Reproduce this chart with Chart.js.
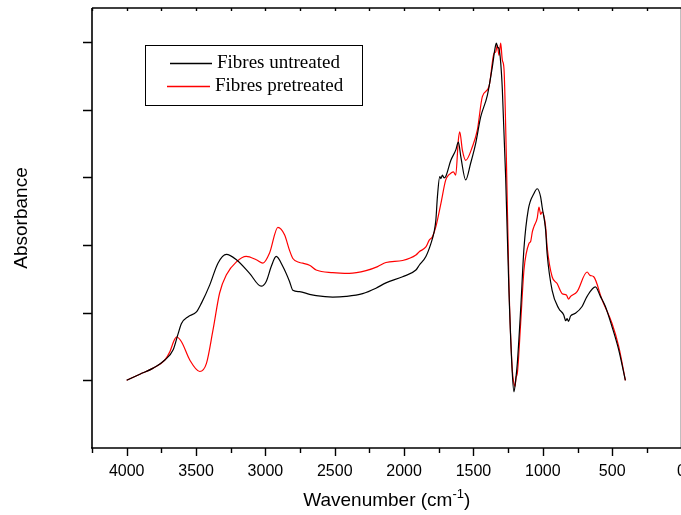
<!DOCTYPE html>
<html><head><meta charset="utf-8">
<script src="https://cdn.jsdelivr.net/npm/chart.js@4"></script>
<style>html,body{margin:0;padding:0;overflow:hidden;background:#fff}</style>
</head><body>
<canvas id="c" width="700" height="515" style="display:block"></canvas>
<script>
const wnUntreated = [4000,3905,3809,3725,3665,3629,3605,3557,3497,3461,3401,3342,3281,3209,3114,3030,2994,2958,2922,2874,2826,2802,2754,2682,2634,2515,2418,2299,2203,2131,2011,1915,1891,1843,1807,1783,1771,1760,1743,1735,1724,1712,1700,1663,1628,1609,1591,1556,1520,1484,1448,1400,1364,1345,1335,1325,1316,1304,1292,1268,1244,1220,1208,1196,1184,1160,1136,1105,1064,1040,1016,1005,980,969,933,885,850,835,825,815,800,765,717,681,621,585,549,501,453,405];
const absUntreated = [1.00,1.09,1.18,1.30,1.45,1.69,1.84,1.94,2.01,2.14,2.41,2.73,2.86,2.78,2.58,2.39,2.46,2.68,2.83,2.68,2.46,2.33,2.31,2.27,2.25,2.23,2.24,2.28,2.36,2.44,2.53,2.63,2.70,2.83,3.02,3.20,3.37,3.71,4.01,3.98,4.03,3.99,4.01,4.25,4.40,4.52,4.30,3.96,4.21,4.50,4.89,5.21,5.63,5.90,5.98,5.92,5.90,5.70,5.30,4.00,2.30,1.10,0.83,1.00,1.25,2.04,2.95,3.52,3.76,3.83,3.71,3.56,3.22,2.87,2.33,2.06,1.97,1.88,1.91,1.87,1.95,1.99,2.09,2.24,2.38,2.24,2.09,1.79,1.45,1.00];
const wnPretreated = [4000,3905,3809,3725,3689,3660,3641,3605,3545,3473,3425,3378,3330,3281,3209,3138,3066,3018,2970,2910,2862,2826,2802,2754,2730,2682,2634,2515,2395,2275,2191,2131,2011,1915,1891,1843,1819,1796,1771,1735,1700,1680,1663,1645,1628,1609,1599,1580,1556,1508,1472,1436,1388,1352,1340,1328,1316,1304,1292,1280,1263,1244,1220,1208,1201,1192,1184,1160,1136,1100,1088,1075,1064,1040,1028,1015,1005,980,969,933,897,860,830,815,800,753,681,660,633,573,501,453,405];
const absPretreated = [1.00,1.09,1.18,1.30,1.42,1.58,1.64,1.57,1.30,1.13,1.25,1.74,2.29,2.56,2.75,2.83,2.78,2.73,2.88,3.26,3.15,2.92,2.80,2.74,2.73,2.70,2.63,2.59,2.58,2.62,2.68,2.74,2.77,2.85,2.90,2.97,3.07,3.12,3.27,3.61,3.96,4.03,4.06,4.08,4.03,4.55,4.67,4.40,4.25,4.45,4.70,5.19,5.34,5.83,5.85,5.95,5.80,5.98,5.73,5.60,4.30,2.40,1.15,0.95,0.91,1.05,1.10,1.84,2.63,3.02,3.05,3.20,3.27,3.40,3.56,3.45,3.49,3.27,2.97,2.53,2.43,2.28,2.26,2.20,2.24,2.31,2.60,2.55,2.53,2.19,1.84,1.50,1.00];
const xTickLabels = [4000,3500,3000,2500,2000,1500,1000,500,0];
const yTicks = [1,2,3,4,5,6];
const seriesNames = ['Fibres untreated','Fibres pretreated'];

const pts = (xs, ys) => xs.map((x,i)=>({x:x, y:ys[i]}));

const framePlugin = {
  id:'frame',
  afterDraw(chart){
    const ctx = chart.ctx, a = chart.chartArea;
    const xs = chart.scales.x, ys = chart.scales.y;
    ctx.save();
    ctx.strokeStyle = '#000';
    ctx.lineWidth = 1.6;
    ctx.beginPath();
    ctx.moveTo(a.left, a.top); ctx.lineTo(a.right, a.top);
    ctx.moveTo(a.left, a.top); ctx.lineTo(a.left, a.bottom);
    ctx.moveTo(a.left - 1, a.bottom); ctx.lineTo(a.right, a.bottom);
    ctx.moveTo(a.right, a.top); ctx.lineTo(a.right, a.bottom);
    ctx.stroke();
    ctx.lineWidth = 1.4;
    ctx.beginPath();
    for (let v = 4250; v >= 0; v -= 250) {
      const px = Math.round(xs.getPixelForValue(v)) + 0.5;
      const major = v % 500 === 0;
      ctx.moveTo(px, a.bottom); ctx.lineTo(px, a.bottom + (major ? 8 : 5));
      ctx.moveTo(px, a.top); ctx.lineTo(px, a.top + 3);
    }
    yTicks.forEach(v => {
      const py = Math.round(ys.getPixelForValue(v)) + 0.5;
      ctx.moveTo(a.left - 9, py); ctx.lineTo(a.left, py);
    });
    ctx.stroke();

    // axis titles
    const big = '19px "Liberation Sans", Arial, sans-serif';
    const small = '13px "Liberation Sans", Arial, sans-serif';
    ctx.fillStyle = '#000';
    ctx.textBaseline = 'alphabetic';
    const p1 = 'Wavenumber (cm', p2 = '-1', p3 = ')';
    ctx.font = big;
    const w1 = ctx.measureText(p1).width, w3 = ctx.measureText(p3).width;
    ctx.font = small;
    const w2 = ctx.measureText(p2).width;
    const total = w1 + w2 + w3;
    let x0 = (a.left + a.right) / 2 - total / 2;
    const by = 506;
    ctx.textAlign = 'left';
    ctx.font = big;
    ctx.fillText(p1, x0, by);
    ctx.font = small;
    ctx.fillText(p2, x0 + w1, by - 8);
    ctx.font = big;
    ctx.fillText(p3, x0 + w1 + w2, by);

    ctx.save();
    ctx.translate(27, 218);
    ctx.rotate(-Math.PI / 2);
    ctx.textAlign = 'center';
    ctx.fillText('Absorbance', 0, 0);
    ctx.restore();

    // legend
    ctx.lineWidth = 1;
    ctx.strokeStyle = '#000';
    ctx.strokeRect(145.5, 45.5, 217, 60);
    ctx.lineWidth = 1.3;
    ctx.beginPath(); ctx.strokeStyle = '#000';
    ctx.moveTo(170, 63.5); ctx.lineTo(212, 63.5); ctx.stroke();
    ctx.beginPath(); ctx.strokeStyle = '#ff0000';
    ctx.moveTo(167, 86.5); ctx.lineTo(210, 86.5); ctx.stroke();
    ctx.font = '19px "Liberation Serif", "Times New Roman", serif';
    ctx.textAlign = 'left';
    ctx.textBaseline = 'middle';
    ctx.fillStyle = '#000';
    ctx.fillText(seriesNames[0], 217, 63);
    ctx.fillText(seriesNames[1], 215, 86);
    ctx.restore();
  }
};

new Chart(document.getElementById('c'), {
  type: 'line',
  data: {
    datasets: [
      {label: seriesNames[0], data: pts(wnUntreated, absUntreated), borderColor:'#000000', borderWidth:1.2, pointRadius:0, cubicInterpolationMode:'monotone', fill:false},
      {label: seriesNames[1], data: pts(wnPretreated, absPretreated), borderColor:'#ff0000', borderWidth:1.2, pointRadius:0, cubicInterpolationMode:'monotone', fill:false}
    ]
  },
  options: {
    responsive: false,
    devicePixelRatio: 1,
    animation: false,
    events: [],
    layout: {padding: {top: 8, right: 17, left: 0, bottom: 0}},
    plugins: {legend: {display:false}, tooltip: {enabled:false}},
    scales: {
      x: {
        type: 'linear', reverse: true, min: 0, max: 4250,
        afterFit: s => { s.height = 67; },
        afterBuildTicks: s => { s.ticks = xTickLabels.map(v => ({value: v})); },
        grid: {display:false, drawTicks:false},
        border: {display:false},
        ticks: {padding: 14, color:'#000', maxRotation:0, autoSkip:false,
          callback: v => String(v),
          font: {family:'"Liberation Sans", Arial, sans-serif', size:16}}
      },
      y: {
        type: 'linear', min: 0, max: 6.5,
        afterFit: s => { s.width = 92; },
        grid: {display:false, drawTicks:false},
        border: {display:false},
        ticks: {display:false}
      }
    }
  },
  plugins: [framePlugin]
});
</script>
</body></html>
